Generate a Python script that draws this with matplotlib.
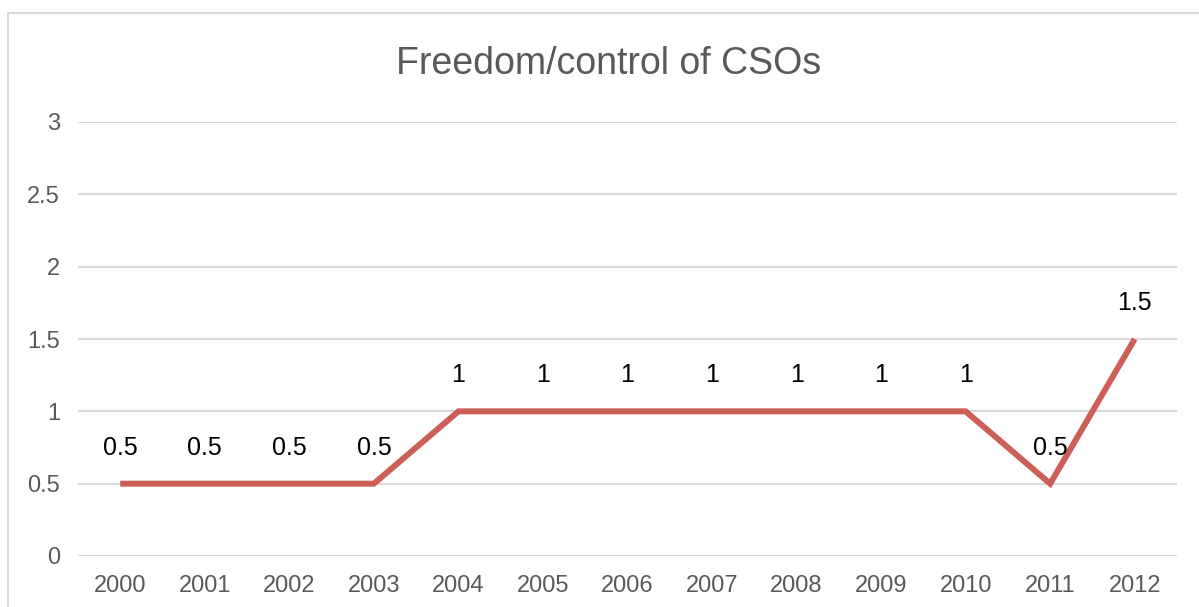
import matplotlib
matplotlib.use("Agg")
import matplotlib.pyplot as plt
from matplotlib.patches import Rectangle

years = ["2000", "2001", "2002", "2003", "2004", "2005", "2006",
         "2007", "2008", "2009", "2010", "2011", "2012"]
scores = [0.5, 0.5, 0.5, 0.5, 1, 1, 1, 1, 1, 1, 1, 0.5, 1.5]
y_ticks = [0, 0.5, 1, 1.5, 2, 2.5, 3]
y_tick_labels = ["0", "0.5", "1", "1.5", "2", "2.5", "3"]
title = "Freedom/control of CSOs"

plt.rcParams["font.family"] = ["Liberation Sans", "DejaVu Sans"]

W, H = 1199, 607
fig = plt.figure(figsize=(W / 100, H / 100), dpi=100)

# chart frame
fig.patches.append(Rectangle((8 / W, -0.05), 1.1, 1 - 13 / H + 0.05,
                             transform=fig.transFigure, fill=False,
                             edgecolor="#D9D9D9", linewidth=1.5))

left, right = 78 / W, 1177 / W
bottom, top = 1 - 556 / H, 1 - 122 / H
ax = fig.add_axes([left, bottom, right - left, top - bottom])

x = list(range(len(years)))
ax.plot(x, scores, color="#CC6058", linewidth=4.3, solid_capstyle="butt",
        solid_joinstyle="miter", zorder=3)

for xi, v in zip(x, scores):
    ax.annotate(f"{v:g}", (xi, v), xytext=(0, 36), textcoords="offset pixels",
                ha="center", va="center", fontsize=18, color="black", zorder=4)

ax.set_xlim(-0.5, len(years) - 0.5)
ax.set_ylim(0, 3)
ax.set_xticks(x)
ax.set_xticklabels(years)
ax.set_yticks(y_ticks)
ax.set_yticklabels(y_tick_labels)
ax.tick_params(axis="both", length=0, labelsize=17, labelcolor="#595959")
ax.tick_params(axis="y", pad=13)
ax.tick_params(axis="x", pad=14)
ax.grid(axis="y", color="#D9D9D9", linewidth=1.5)
ax.set_axisbelow(True)
for s in ax.spines.values():
    s.set_visible(False)

fig.text(609 / W, 1 - 64 / H, title, ha="center", va="center",
         fontsize=27, color="#595959")

fig.savefig("out.png", dpi=100)
